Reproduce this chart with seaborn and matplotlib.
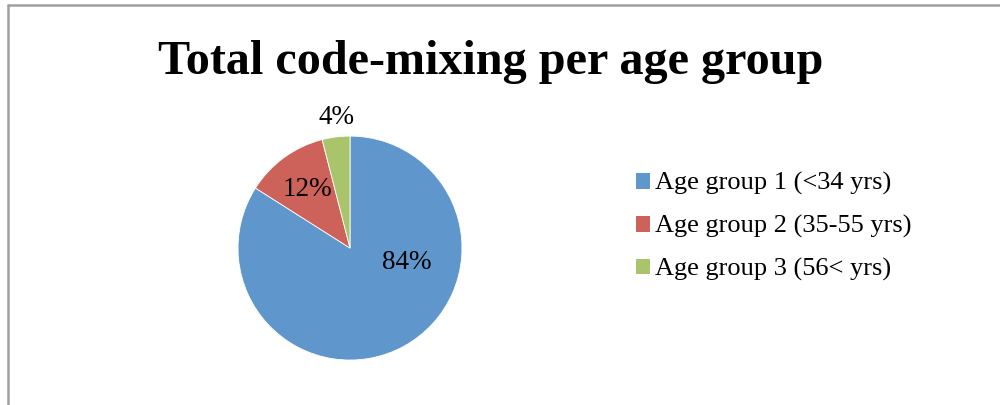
import matplotlib
matplotlib.use("Agg")
import matplotlib.pyplot as plt
import seaborn as sns
from matplotlib.lines import Line2D
from matplotlib.patches import Patch

categories = ["Age group 1 (<34 yrs)", "Age group 2 (35-55 yrs)", "Age group 3 (56< yrs)"]
values = [84, 12, 4]
pct_labels = ["84%", "12%", "4%"]
title = "Total code-mixing per age group"

sns.set_theme(style="white")
plt.rcParams['font.family'] = ['Liberation Serif', 'DejaVu Serif']
plt.rcParams['text.color'] = 'black'
colors = sns.color_palette(["#5F96CB", "#CC6259", "#A9C46A"])

fig = plt.figure(figsize=(10, 4.05), dpi=100)
fig.patch.set_facecolor("white")

ax = fig.add_axes([0.238, 0.111, 0.224, 0.553])
wedges, _ = ax.pie(values, colors=colors, startangle=90, counterclock=False,
                   radius=1.0, wedgeprops=dict(linewidth=0.6, edgecolor="white"))
ax.set_xlim(-1, 1)
ax.set_ylim(-1, 1)
ax.set_aspect("equal")
ax.axis("off")

# label positions (relative to pie radius), as Excel places them
label_pos = [(0.51, -0.13), (-0.38, 0.52), (-0.125, 1.17)]
for lab, (x, y) in zip(pct_labels, label_pos):
    ax.text(x, y, lab, ha="center", va="center", fontsize=19.5, color="black", clip_on=False)

fig.text(0.491, 0.848, title, ha="center", va="center", fontsize=34.7, fontweight="bold", color="black")

handles = [Patch(facecolor=c, edgecolor="none") for c in colors]
fig.legend(handles, categories, loc="center left", bbox_to_anchor=(0.625, 0.44),
           frameon=False, fontsize=19, handlelength=0.55, handleheight=0.55,
           handletextpad=0.2, labelspacing=0.75, borderaxespad=0, labelcolor="black")

# chart-area border (top and left visible)
fig.add_artist(Line2D([0.0075, 1.0], [0.988, 0.988], transform=fig.transFigure, color="#A0A0A0", linewidth=1.8))
fig.add_artist(Line2D([0.0075, 0.0075], [0.0, 0.988], transform=fig.transFigure, color="#A0A0A0", linewidth=1.8))

fig.savefig("out.png", dpi=100, facecolor="white")
